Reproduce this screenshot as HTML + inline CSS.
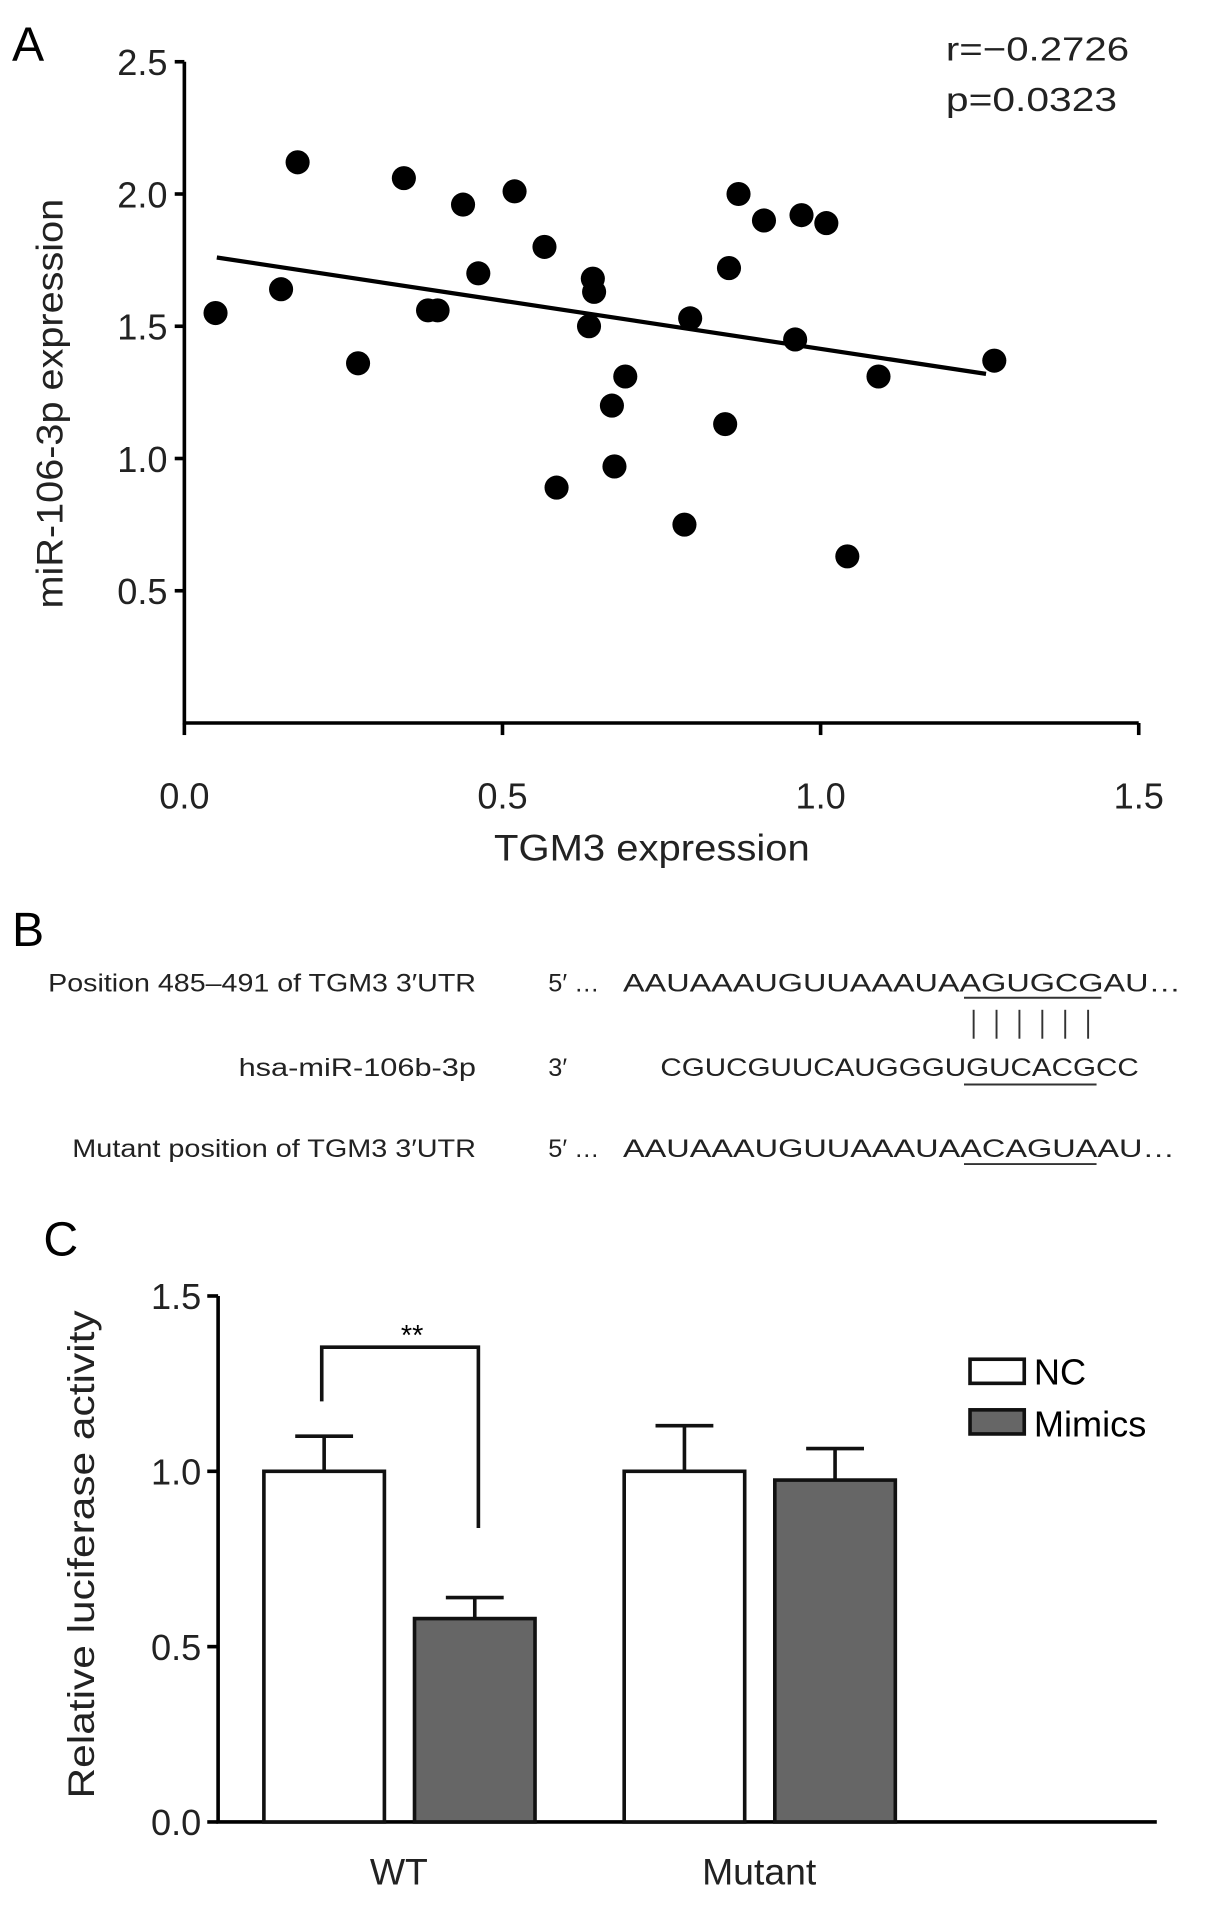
<!DOCTYPE html>
<html><head><meta charset="utf-8"><style>
html,body{margin:0;padding:0;background:#fff}
svg{display:block;font-family:"Liberation Sans",sans-serif}
</style></head><body>
<svg id="fig" width="1205" height="1908" viewBox="0 0 1000 1583.4">
<g id="pa">
<text x="10" y="50" font-size="40">A</text>
<text x="785" y="50" font-size="28" fill="#222" textLength="152" lengthAdjust="spacingAndGlyphs">r=−0.2726</text>
<text x="785" y="92" font-size="28" fill="#222" textLength="142" lengthAdjust="spacingAndGlyphs">p=0.0323</text>
<text transform="translate(52,335) rotate(-90)" text-anchor="middle" font-size="31" fill="#222" textLength="340" lengthAdjust="spacingAndGlyphs">miR-106-3p expression</text>
<text x="541" y="714" text-anchor="middle" font-size="31" fill="#222" textLength="262" lengthAdjust="spacingAndGlyphs">TGM3 expression</text>
</g>
<g id="pb" font-size="21" fill="#222">
<text x="10" y="785" font-size="40" fill="#000">B</text>
<text x="40" y="823" textLength="355" lengthAdjust="spacingAndGlyphs">Position 485–491 of TGM3 3′UTR</text>
<text x="198" y="893" textLength="197" lengthAdjust="spacingAndGlyphs">hsa-miR-106b-3p</text>
<text x="60" y="960" textLength="335" lengthAdjust="spacingAndGlyphs">Mutant position of TGM3 3′UTR</text>
<text x="455" y="823">5′ …</text>
<text x="517" y="823" textLength="463" lengthAdjust="spacingAndGlyphs">AAUAAAUGUUAAAUAAGUGCGAU…</text>
<text x="455" y="893">3′</text>
<text x="548" y="893" textLength="397" lengthAdjust="spacingAndGlyphs">CGUCGUUCAUGGGUGUCACGCC</text>
<text x="455" y="960">5′ …</text>
<text x="517" y="960" textLength="458" lengthAdjust="spacingAndGlyphs">AAUAAAUGUUAAAUAACAGUAAU…</text>
<line x1="800" y1="828" x2="914" y2="828" stroke="#333" stroke-width="1.6"/>
<line x1="800" y1="900" x2="910" y2="900" stroke="#333" stroke-width="1.6"/>
<line x1="800" y1="966" x2="910" y2="966" stroke="#333" stroke-width="1.6"/>
<g stroke="#333" stroke-width="1.6">
<line x1="808" y1="838" x2="808" y2="862"/><line x1="827" y1="838" x2="827" y2="862"/><line x1="846" y1="838" x2="846" y2="862"/><line x1="865" y1="838" x2="865" y2="862"/><line x1="884" y1="838" x2="884" y2="862"/><line x1="903" y1="838" x2="903" y2="862"/>
</g>
</g>
<g id="pc">
<text x="36" y="1042" font-size="40">C</text>
<text transform="translate(78,1290) rotate(-90)" text-anchor="middle" font-size="31" fill="#222" textLength="405" lengthAdjust="spacingAndGlyphs">Relative luciferase activity</text>
<rect x="805" y="1128" width="45" height="20" fill="#fff" stroke="#111" stroke-width="3"/>
<text x="858" y="1149" font-size="30">NC</text>
<rect x="805" y="1170" width="45" height="20" fill="#666" stroke="#111" stroke-width="3"/>
<text x="858" y="1192" font-size="30">Mimics</text>
<path d="M267,1163 V1118 H397 V1268" fill="none" stroke="#111" stroke-width="3"/>
<text x="342" y="1116" font-size="24" text-anchor="middle">**</text>
</g>
</svg>
<script>
const NS='http://www.w3.org/2000/svg';
function mk(p,tag,a){const e=document.createElementNS(NS,tag);for(const k in a)e.setAttribute(k,a[k]);p.appendChild(e);return e;}
// Panel A data
const tgm3=[0.049,0.152,0.178,0.273,0.345,0.383,0.398,0.438,0.462,0.519,0.566,0.585,0.642,0.644,0.636,0.672,0.676,0.693,0.786,0.795,0.850,0.856,0.871,0.911,0.960,0.970,1.009,1.042,1.091,1.273];
const mir=[1.55,1.64,2.12,1.36,2.06,1.56,1.56,1.96,1.70,2.01,1.80,0.89,1.68,1.63,1.50,1.20,0.97,1.31,0.75,1.53,1.13,1.72,2.00,1.90,1.45,1.92,1.89,0.63,1.31,1.37];
const fitX=[0.051,1.26];
const fitY=[1.76,1.32];
const xTicksA=[0.0,0.5,1.0,1.5];
const yTicksA=[0.5,1.0,1.5,2.0,2.5];
const ax=v=>153+v*528, ay=v=>600-v*219.5;
const pa=document.getElementById('pa');
let e=mk(pa,'path',{d:`M${ax(0)},${ay(2.5)} V${ay(0)} H${ax(1.5)}`,fill:'none',stroke:'#000','stroke-width':3});


yTicksA.forEach(t=>{mk(pa,'line',{x1:ax(0)-8,x2:ax(0),y1:ay(t),y2:ay(t),stroke:'#000','stroke-width':3});
 const tx=mk(pa,'text',{x:ax(0)-14,y:ay(t)+11,'text-anchor':'end','font-size':30,fill:'#222'});tx.textContent=t.toFixed(1);
 
 });
xTicksA.forEach(t=>{mk(pa,'line',{x1:ax(t),x2:ax(t),y1:ay(0),y2:ay(0)+10,stroke:'#000','stroke-width':3});
 const tx=mk(pa,'text',{x:ax(t),y:ay(0)+71,'text-anchor':'middle','font-size':30,fill:'#222'});tx.textContent=t.toFixed(1);
 
 });
e=mk(pa,'line',{x1:ax(fitX[0]),y1:ay(fitY[0]),x2:ax(fitX[1]),y2:ay(fitY[1]),stroke:'#000','stroke-width':3.5});


tgm3.forEach((x,i)=>{const c=mk(pa,'circle',{cx:ax(x),cy:ay(mir[i]),r:10,fill:'#000'});
 
 });
// Panel C data
const groups=['WT','Mutant'];
const ncVals=[1.0,1.0];
const ncErr=[1.10,1.13];
const mimVals=[0.58,0.975];
const mimErr=[0.64,1.065];
const yTicksC=[0.0,0.5,1.0,1.5];
const cy=v=>1512-v*291, cx0=181;
const pc=document.getElementById('pc');
e=mk(pc,'path',{d:`M${cx0},${cy(1.5)} V${cy(0)} H960`,fill:'none',stroke:'#000','stroke-width':3});


yTicksC.forEach(t=>{mk(pc,'line',{x1:cx0-9,x2:cx0,y1:cy(t),y2:cy(t),stroke:'#000','stroke-width':3});
 const tx=mk(pc,'text',{x:cx0-14,y:cy(t)+11,'text-anchor':'end','font-size':30,fill:'#222'});tx.textContent=t.toFixed(1);
 
 });
groups.forEach((g,i)=>{
 const base=219+i*299;
 [[ncVals[i],ncErr[i],'#fff',base,'bar-nc'],[mimVals[i],mimErr[i],'#666',base+125,'bar-mimics']].forEach(([v,er,col,x,nm])=>{
  mk(pc,'line',{x1:x+50,x2:x+50,y1:cy(v),y2:cy(er),stroke:'#111','stroke-width':3});
  mk(pc,'line',{x1:x+26,x2:x+74,y1:cy(er),y2:cy(er),stroke:'#111','stroke-width':3});
  const r=mk(pc,'rect',{x:x,y:cy(v),width:100,height:cy(0)-cy(v),fill:col,stroke:'#111','stroke-width':3});
  
  
 });
 const tx=mk(pc,'text',{x:base+112,y:1564,'text-anchor':'middle','font-size':31,fill:'#222'});tx.textContent=g;
 
 
});
</script>
</body></html>
